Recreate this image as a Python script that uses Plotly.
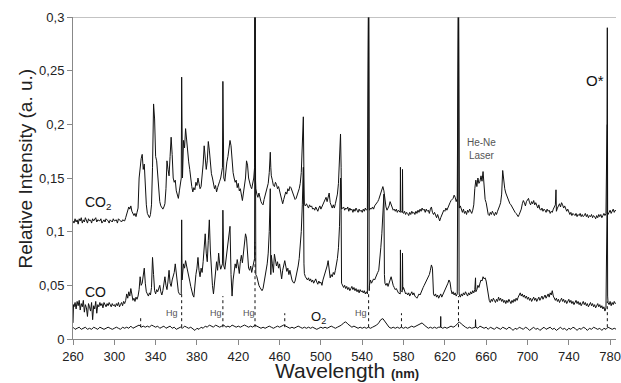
import plotly.graph_objects as go

# ---- data: (wavelength nm, relative intensity) ----
CO2_SPECTRUM = [
    (260, 0.110), (261, 0.108), (262, 0.112), (263, 0.109), (264, 0.111), (265, 0.107), (266, 0.112), (267, 0.110),
    (268, 0.113), (269, 0.108), (270, 0.111), (271, 0.109), (272, 0.113), (273, 0.110), (274, 0.108), (275, 0.112),
    (276, 0.110), (277, 0.111), (278, 0.108), (279, 0.112), (280, 0.110), (282, 0.113), (283, 0.109), (284, 0.111),
    (286, 0.110), (287, 0.112), (288, 0.108), (290, 0.111), (291, 0.109), (292, 0.112), (294, 0.110), (295, 0.108),
    (296, 0.111), (298, 0.109), (299, 0.112), (300, 0.110), (302, 0.111), (303, 0.108), (304, 0.112), (306, 0.110),
    (307, 0.109), (308, 0.111), (310, 0.110), (311, 0.113), (312, 0.116), (313, 0.120), (314, 0.123), (315, 0.121),
    (316, 0.124), (317, 0.119), (318, 0.117), (319, 0.115), (320, 0.117), (321, 0.114), (322, 0.118), (323, 0.122),
    (324, 0.150), (325, 0.160), (326, 0.168), (327, 0.172), (328, 0.158), (329, 0.163), (330, 0.140), (331, 0.125),
    (332, 0.117), (333, 0.114), (334, 0.113), (335, 0.116), (336, 0.125), (337, 0.160), (338, 0.219), (339, 0.205),
    (340, 0.170), (341, 0.166), (342, 0.150), (343, 0.138), (344, 0.128), (345, 0.124), (346, 0.122), (347, 0.121),
    (348, 0.123), (349, 0.126), (350, 0.140), (351, 0.166), (352, 0.158), (353, 0.152), (354, 0.170), (355, 0.188),
    (356, 0.172), (357, 0.150), (358, 0.146), (359, 0.148), (360, 0.138), (361, 0.134), (362, 0.131), (363, 0.138),
    (364, 0.145), (364.8, 0.150), (365.2, 0.244), (365.6, 0.160), (366, 0.150), (367, 0.185), (368, 0.178), (369, 0.196),
    (370, 0.185), (371, 0.172), (372, 0.165), (373, 0.158), (374, 0.148), (375, 0.142), (376, 0.137), (377, 0.141),
    (378, 0.139), (379, 0.146), (380, 0.143), (381, 0.150), (382, 0.145), (383, 0.140), (384, 0.142), (385, 0.152),
    (386, 0.163), (387, 0.180), (388, 0.170), (389, 0.158), (390, 0.166), (391, 0.184), (392, 0.176), (393, 0.160),
    (394, 0.154), (395, 0.150), (396, 0.146), (397, 0.140), (398, 0.143), (399, 0.137), (400, 0.141), (401, 0.145),
    (402, 0.147), (403, 0.150), (404, 0.155), (404.7, 0.160), (405.1, 0.240), (405.5, 0.162), (406, 0.150), (407, 0.147),
    (408, 0.158), (409, 0.165), (410, 0.170), (411, 0.176), (412, 0.185), (413, 0.180), (414, 0.162), (415, 0.155),
    (416, 0.150), (417, 0.146), (418, 0.148), (419, 0.141), (420, 0.145), (421, 0.138), (422, 0.140), (423, 0.133),
    (424, 0.129), (425, 0.136), (426, 0.143), (427, 0.150), (428, 0.166), (429, 0.162), (430, 0.150), (431, 0.144),
    (432, 0.142), (433, 0.140), (434, 0.145), (435, 0.150), (435.8, 0.160), (436.2, 0.350), (436.6, 0.150), (437, 0.140),
    (438, 0.135), (439, 0.132), (440, 0.136), (441, 0.131), (442, 0.128), (443, 0.126), (444, 0.125), (445, 0.130),
    (446, 0.134), (447, 0.138), (448, 0.141), (449, 0.145), (450, 0.155), (451, 0.174), (451.5, 0.160), (452, 0.152),
    (453, 0.148), (454, 0.143), (455, 0.142), (456, 0.146), (457, 0.144), (458, 0.140), (459, 0.142), (460, 0.138),
    (461, 0.132), (462, 0.128), (463, 0.126), (464, 0.130), (465, 0.134), (466, 0.137), (467, 0.135), (468, 0.140),
    (469, 0.138), (470, 0.142), (471, 0.141), (472, 0.138), (473, 0.136), (474, 0.133), (475, 0.130), (476, 0.131),
    (477, 0.135), (478, 0.137), (479, 0.140), (480, 0.145), (481, 0.155), (482, 0.175), (483, 0.207), (483.6, 0.150),
    (484, 0.125), (485, 0.124), (486, 0.126), (487, 0.124), (488, 0.122), (489, 0.125), (490, 0.123), (491, 0.124),
    (492, 0.121), (493, 0.122), (494, 0.120), (495, 0.123), (496, 0.121), (497, 0.119), (498, 0.122), (499, 0.124),
    (500, 0.121), (501, 0.123), (502, 0.126), (503, 0.128), (504, 0.130), (505, 0.132), (506, 0.128), (507, 0.133),
    (508, 0.136), (509, 0.127), (510, 0.124), (511, 0.122), (512, 0.125), (513, 0.122), (514, 0.126), (515, 0.130),
    (516, 0.135), (517, 0.145), (518, 0.165), (519, 0.191), (519.6, 0.160), (520, 0.121), (521, 0.122), (522, 0.123),
    (523, 0.120), (524, 0.122), (525, 0.121), (526, 0.123), (527, 0.119), (528, 0.122), (529, 0.120), (530, 0.121),
    (531, 0.118), (532, 0.121), (533, 0.119), (534, 0.122), (535, 0.120), (536, 0.118), (537, 0.121), (538, 0.119),
    (539, 0.120), (540, 0.118), (541, 0.121), (542, 0.119), (543, 0.122), (544, 0.120), (545, 0.121), (546.2, 0.350),
    (546.8, 0.121), (547, 0.120), (548, 0.122), (549, 0.121), (550, 0.123), (551, 0.121), (552, 0.124), (553, 0.125),
    (554, 0.127), (555, 0.128), (556, 0.130), (557, 0.133), (558, 0.137), (559, 0.140), (560, 0.142), (561, 0.138),
    (562, 0.127), (563, 0.123), (564, 0.120), (565, 0.122), (566, 0.124), (567, 0.128), (568, 0.125), (569, 0.122),
    (570, 0.120), (571, 0.121), (572, 0.119), (573, 0.121), (574, 0.118), (575, 0.120), (576.8, 0.118), (577, 0.160),
    (577.3, 0.119), (578.8, 0.118), (579, 0.158), (579.3, 0.118), (580, 0.117), (581, 0.119), (582, 0.116), (583, 0.118),
    (584, 0.117), (585, 0.115), (586, 0.118), (587, 0.116), (588, 0.119), (589, 0.117), (590, 0.118), (591, 0.116),
    (592, 0.119), (593, 0.117), (594, 0.120), (595, 0.118), (596, 0.121), (597, 0.119), (598, 0.122), (599, 0.120),
    (600, 0.121), (601, 0.118), (602, 0.121), (603, 0.119), (604, 0.120), (605, 0.117), (606, 0.121), (607, 0.123),
    (608, 0.118), (609, 0.116), (610, 0.118), (611, 0.115), (612, 0.113), (613, 0.116), (614, 0.112), (615, 0.110),
    (616, 0.113), (617, 0.116), (618, 0.118), (619, 0.120), (620, 0.119), (621, 0.122), (622, 0.120), (623, 0.123),
    (624, 0.125), (625, 0.127), (626, 0.129), (627, 0.130), (628, 0.131), (629, 0.134), (630, 0.132), (631, 0.128),
    (632, 0.131), (633.2, 0.350), (633.8, 0.125), (634, 0.122), (635, 0.124), (636, 0.120), (637, 0.118), (638, 0.121),
    (639, 0.117), (640, 0.119), (641, 0.116), (642, 0.120), (643, 0.118), (644, 0.121), (645, 0.119), (646, 0.117),
    (647, 0.120), (648, 0.125), (649, 0.140), (650, 0.148), (651, 0.142), (652, 0.150), (653, 0.145), (654, 0.147),
    (655, 0.152), (656, 0.147), (657, 0.156), (658, 0.140), (659, 0.130), (660, 0.127), (661, 0.122), (662, 0.116),
    (663, 0.115), (664, 0.118), (665, 0.116), (666, 0.119), (667, 0.117), (668, 0.115), (669, 0.118), (670, 0.116),
    (671, 0.119), (672, 0.121), (673, 0.124), (674, 0.127), (675, 0.135), (676, 0.157), (677, 0.145), (678, 0.140),
    (679, 0.136), (680, 0.133), (681, 0.130), (682, 0.128), (683, 0.126), (684, 0.125), (685, 0.123), (686, 0.121),
    (687, 0.120), (688, 0.118), (689, 0.117), (690, 0.115), (691, 0.114), (692, 0.116), (693, 0.118), (694, 0.121),
    (695, 0.126), (696, 0.129), (697, 0.127), (698, 0.124), (699, 0.128), (700, 0.130), (701, 0.131), (702, 0.127),
    (703, 0.125), (704, 0.128), (705, 0.126), (706, 0.129), (707, 0.125), (708, 0.127), (709, 0.124), (710, 0.122),
    (711, 0.125), (712, 0.121), (713, 0.120), (714, 0.122), (715, 0.119), (716, 0.121), (717, 0.120), (718, 0.118),
    (719, 0.121), (720, 0.119), (721, 0.120), (722, 0.117), (723, 0.119), (724, 0.118), (725, 0.121), (726, 0.123),
    (727, 0.125), (727.6, 0.139), (728, 0.119), (729, 0.122), (730, 0.124), (731, 0.126), (732, 0.123), (733, 0.127),
    (734, 0.125), (735, 0.122), (736, 0.124), (737, 0.120), (738, 0.119), (739, 0.121), (740, 0.118), (741, 0.116),
    (742, 0.118), (743, 0.115), (744, 0.117), (745, 0.116), (746, 0.115), (747, 0.117), (748, 0.114), (749, 0.116),
    (750, 0.115), (751, 0.117), (752, 0.114), (753, 0.116), (754, 0.114), (755, 0.115), (756, 0.117), (757, 0.114),
    (758, 0.116), (759, 0.113), (760, 0.115), (761, 0.114), (762, 0.116), (763, 0.113), (764, 0.115), (765, 0.114),
    (766, 0.112), (767, 0.115), (768, 0.113), (769, 0.116), (770, 0.114), (771, 0.116), (772, 0.113), (773, 0.115),
    (774, 0.117), (775, 0.115), (776, 0.117), (777, 0.200), (777.3, 0.290), (777.6, 0.118), (778, 0.116), (779, 0.118),
    (780, 0.120), (781, 0.117), (782, 0.119), (783, 0.121), (784, 0.118), (785, 0.120), (786, 0.119),
]

CO_SPECTRUM = [
    (260, 0.015), (260.5, 0.032), (261, 0.030), (262, 0.034), (263, 0.028), (264, 0.035), (265, 0.031), (266, 0.036),
    (267, 0.027), (268, 0.033), (269, 0.030), (270, 0.036), (271, 0.025), (272, 0.032), (273, 0.029), (274, 0.021),
    (275, 0.033), (276, 0.030), (277, 0.026), (278, 0.034), (279, 0.018), (280, 0.031), (281, 0.028), (282, 0.035),
    (283, 0.024), (284, 0.032), (285, 0.030), (286, 0.034), (287, 0.031), (288, 0.033), (289, 0.029), (290, 0.034),
    (291, 0.032), (292, 0.030), (293, 0.033), (294, 0.031), (295, 0.034), (296, 0.032), (297, 0.030), (298, 0.033),
    (299, 0.031), (300, 0.032), (301, 0.030), (302, 0.033), (303, 0.031), (304, 0.034), (305, 0.030), (306, 0.032),
    (307, 0.034), (308, 0.031), (309, 0.035), (310, 0.033), (311, 0.036), (312, 0.042), (313, 0.038), (314, 0.044),
    (315, 0.040), (316, 0.047), (317, 0.041), (318, 0.036), (319, 0.038), (320, 0.035), (321, 0.039), (322, 0.037),
    (323, 0.040), (324, 0.046), (325, 0.058), (326, 0.050), (327, 0.052), (328, 0.060), (329, 0.066), (330, 0.052),
    (331, 0.044), (332, 0.042), (333, 0.040), (334, 0.043), (335, 0.041), (336, 0.048), (337, 0.076), (338, 0.060),
    (339, 0.045), (340, 0.042), (341, 0.046), (342, 0.044), (343, 0.048), (344, 0.050), (345, 0.044), (346, 0.041),
    (347, 0.045), (348, 0.050), (349, 0.058), (350, 0.050), (351, 0.046), (352, 0.054), (353, 0.064), (354, 0.052),
    (355, 0.049), (356, 0.055), (357, 0.058), (358, 0.062), (359, 0.070), (360, 0.060), (361, 0.050), (362, 0.044),
    (363, 0.042), (364, 0.041), (364.8, 0.042), (365.2, 0.111), (365.6, 0.055), (366, 0.062), (367, 0.070), (368, 0.066),
    (369, 0.073), (370, 0.068), (371, 0.062), (372, 0.058), (373, 0.054), (374, 0.049), (375, 0.044), (376, 0.041),
    (377, 0.039), (378, 0.052), (379, 0.060), (380, 0.066), (381, 0.076), (382, 0.064), (383, 0.058), (384, 0.066),
    (385, 0.062), (386, 0.072), (387, 0.090), (388, 0.098), (389, 0.080), (390, 0.072), (391, 0.092), (392, 0.111),
    (393, 0.082), (394, 0.060), (395, 0.050), (396, 0.042), (397, 0.055), (398, 0.068), (399, 0.072), (400, 0.064),
    (401, 0.080), (402, 0.070), (403, 0.065), (404, 0.068), (404.7, 0.070), (405.1, 0.120), (405.5, 0.075), (406, 0.068),
    (407, 0.065), (408, 0.072), (409, 0.080), (410, 0.086), (411, 0.095), (412, 0.105), (413, 0.060), (414, 0.040),
    (415, 0.055), (416, 0.064), (417, 0.070), (418, 0.066), (419, 0.074), (420, 0.068), (421, 0.061), (422, 0.072),
    (423, 0.078), (424, 0.071), (425, 0.080), (426, 0.090), (427, 0.098), (428, 0.094), (429, 0.078), (430, 0.066),
    (431, 0.064), (432, 0.068), (433, 0.062), (434, 0.066), (435, 0.070), (435.8, 0.075), (436.2, 0.350), (436.6, 0.070),
    (437, 0.060), (438, 0.058), (439, 0.052), (440, 0.050), (441, 0.048), (442, 0.046), (443, 0.045), (444, 0.047),
    (445, 0.052), (446, 0.058), (447, 0.064), (448, 0.070), (449, 0.080), (450, 0.100), (451, 0.140), (451.5, 0.060),
    (452, 0.078), (453, 0.070), (454, 0.062), (455, 0.079), (456, 0.074), (457, 0.068), (458, 0.072), (459, 0.066),
    (460, 0.070), (461, 0.060), (462, 0.056), (463, 0.064), (464, 0.070), (465, 0.073), (466, 0.068), (467, 0.063),
    (468, 0.066), (469, 0.060), (470, 0.064), (471, 0.058), (472, 0.055), (473, 0.053), (474, 0.052), (475, 0.054),
    (476, 0.058), (477, 0.062), (478, 0.068), (479, 0.075), (480, 0.085), (481, 0.100), (482, 0.125), (483, 0.160),
    (483.6, 0.070), (484, 0.061), (485, 0.058), (486, 0.056), (487, 0.055), (488, 0.057), (489, 0.054), (490, 0.056),
    (491, 0.053), (492, 0.055), (493, 0.052), (494, 0.054), (495, 0.056), (496, 0.053), (497, 0.051), (498, 0.054),
    (499, 0.052), (500, 0.053), (501, 0.050), (502, 0.055), (503, 0.058), (504, 0.062), (505, 0.064), (506, 0.068),
    (507, 0.073), (508, 0.062), (509, 0.057), (510, 0.060), (511, 0.058), (512, 0.062), (513, 0.060), (514, 0.064),
    (515, 0.068), (516, 0.075), (517, 0.085), (518, 0.105), (519, 0.150), (519.6, 0.120), (520, 0.052), (521, 0.050),
    (522, 0.048), (523, 0.050), (524, 0.047), (525, 0.049), (526, 0.046), (527, 0.048), (528, 0.045), (529, 0.047),
    (530, 0.049), (531, 0.046), (532, 0.048), (533, 0.045), (534, 0.047), (535, 0.044), (536, 0.046), (537, 0.043),
    (538, 0.046), (539, 0.044), (540, 0.045), (541, 0.043), (542, 0.045), (543, 0.042), (544, 0.044), (545, 0.042),
    (546.2, 0.350), (546.8, 0.045), (547, 0.050), (548, 0.055), (549, 0.052), (550, 0.054), (551, 0.056), (552, 0.055),
    (553, 0.058), (554, 0.060), (555, 0.062), (556, 0.064), (557, 0.072), (558, 0.085), (559, 0.098), (560, 0.115),
    (561, 0.135), (561.5, 0.060), (562, 0.052), (563, 0.050), (564, 0.052), (565, 0.049), (566, 0.053), (567, 0.055),
    (568, 0.058), (569, 0.052), (570, 0.050), (571, 0.048), (572, 0.046), (573, 0.047), (574, 0.044), (575, 0.043),
    (576.8, 0.042), (577, 0.083), (577.3, 0.045), (578.8, 0.044), (579, 0.080), (579.3, 0.046), (580, 0.048), (581, 0.044),
    (582, 0.042), (583, 0.043), (584, 0.041), (585, 0.043), (586, 0.040), (587, 0.042), (588, 0.044), (589, 0.041),
    (590, 0.043), (591, 0.040), (592, 0.039), (593, 0.038), (594, 0.040), (595, 0.042), (596, 0.041), (597, 0.044),
    (598, 0.046), (599, 0.048), (600, 0.050), (601, 0.052), (602, 0.054), (603, 0.056), (604, 0.058), (605, 0.060),
    (606, 0.064), (607, 0.069), (608, 0.066), (608.5, 0.045), (609, 0.042), (610, 0.040), (611, 0.042), (612, 0.039),
    (613, 0.041), (614, 0.038), (615, 0.040), (616, 0.042), (617, 0.039), (618, 0.041), (619, 0.043), (620, 0.045),
    (621, 0.047), (622, 0.050), (623, 0.052), (624, 0.055), (625, 0.053), (626, 0.046), (627, 0.042), (628, 0.044),
    (629, 0.041), (630, 0.043), (631, 0.040), (632, 0.042), (633.2, 0.350), (633.8, 0.044), (634, 0.041), (635, 0.039),
    (636, 0.042), (637, 0.040), (638, 0.043), (639, 0.041), (640, 0.044), (641, 0.042), (642, 0.040), (643, 0.043),
    (644, 0.041), (645, 0.044), (646, 0.042), (647, 0.045), (648, 0.043), (649, 0.046), (649.7, 0.057), (650, 0.044),
    (651, 0.046), (652, 0.050), (653, 0.048), (654, 0.052), (655, 0.055), (656, 0.054), (657, 0.058), (658, 0.056),
    (659, 0.057), (660, 0.054), (661, 0.048), (662, 0.040), (663, 0.036), (664, 0.034), (665, 0.037), (666, 0.035),
    (667, 0.038), (668, 0.036), (669, 0.034), (670, 0.037), (671, 0.035), (672, 0.039), (673, 0.036), (674, 0.038),
    (675, 0.035), (676, 0.037), (677, 0.034), (678, 0.036), (679, 0.033), (680, 0.036), (681, 0.034), (682, 0.037),
    (683, 0.035), (684, 0.033), (685, 0.036), (686, 0.034), (687, 0.037), (688, 0.035), (689, 0.038), (690, 0.036),
    (691, 0.039), (692, 0.041), (693, 0.043), (694, 0.040), (695, 0.042), (696, 0.039), (697, 0.041), (698, 0.038),
    (699, 0.040), (700, 0.037), (701, 0.039), (702, 0.036), (703, 0.038), (704, 0.035), (705, 0.037), (706, 0.039),
    (707, 0.036), (708, 0.038), (709, 0.035), (710, 0.037), (711, 0.039), (712, 0.036), (713, 0.038), (714, 0.040),
    (715, 0.037), (716, 0.039), (717, 0.041), (718, 0.038), (719, 0.040), (720, 0.042), (721, 0.039), (722, 0.043),
    (723, 0.041), (724, 0.045), (725, 0.040), (726, 0.038), (727, 0.036), (728, 0.038), (729, 0.035), (730, 0.037),
    (731, 0.034), (732, 0.036), (733, 0.038), (734, 0.035), (735, 0.037), (736, 0.034), (737, 0.036), (738, 0.033),
    (739, 0.035), (740, 0.037), (741, 0.034), (742, 0.036), (743, 0.033), (744, 0.035), (745, 0.032), (746, 0.034),
    (747, 0.036), (748, 0.033), (749, 0.035), (750, 0.032), (751, 0.034), (752, 0.031), (753, 0.033), (754, 0.035),
    (755, 0.032), (756, 0.034), (757, 0.031), (758, 0.033), (759, 0.030), (760, 0.032), (761, 0.034), (762, 0.031),
    (763, 0.033), (764, 0.030), (765, 0.032), (766, 0.029), (767, 0.031), (768, 0.033), (769, 0.030), (770, 0.032),
    (771, 0.029), (772, 0.031), (773, 0.028), (774, 0.030), (775, 0.026), (776, 0.029), (777, 0.120), (777.3, 0.200),
    (777.6, 0.040), (778, 0.034), (779, 0.032), (780, 0.035), (781, 0.031), (782, 0.034), (783, 0.032), (784, 0.035),
    (785, 0.033), (786, 0.034),
]

O2_SPECTRUM = [
    (260, 0.011), (262, 0.009), (264, 0.010), (266, 0.011), (268, 0.009), (270, 0.010), (272, 0.011), (274, 0.009),
    (276, 0.010), (278, 0.009), (280, 0.011), (282, 0.010), (284, 0.009), (286, 0.011), (288, 0.010), (290, 0.009),
    (292, 0.010), (294, 0.011), (296, 0.010), (298, 0.009), (300, 0.010), (302, 0.011), (304, 0.010), (306, 0.009),
    (308, 0.011), (310, 0.010), (312, 0.011), (314, 0.010), (316, 0.012), (318, 0.010), (320, 0.011), (322, 0.012),
    (324, 0.013), (326, 0.011), (328, 0.012), (330, 0.011), (332, 0.012), (334, 0.011), (336, 0.013), (338, 0.012),
    (340, 0.011), (342, 0.012), (344, 0.010), (346, 0.011), (348, 0.012), (350, 0.010), (352, 0.011), (354, 0.012),
    (356, 0.010), (358, 0.011), (360, 0.009), (362, 0.010), (364, 0.011), (366, 0.010), (368, 0.012), (370, 0.011),
    (372, 0.010), (374, 0.011), (376, 0.009), (378, 0.008), (380, 0.010), (382, 0.009), (384, 0.011), (386, 0.010),
    (388, 0.012), (390, 0.011), (392, 0.013), (394, 0.012), (396, 0.011), (398, 0.013), (400, 0.012), (402, 0.011),
    (404, 0.012), (406, 0.013), (408, 0.011), (410, 0.012), (412, 0.011), (414, 0.013), (416, 0.012), (418, 0.011),
    (420, 0.012), (422, 0.011), (424, 0.012), (426, 0.013), (428, 0.012), (430, 0.011), (432, 0.012), (434, 0.011),
    (436, 0.013), (438, 0.012), (440, 0.011), (442, 0.010), (444, 0.011), (446, 0.010), (448, 0.011), (450, 0.012),
    (452, 0.011), (454, 0.010), (456, 0.011), (458, 0.012), (460, 0.011), (462, 0.012), (464, 0.013), (466, 0.012),
    (468, 0.011), (470, 0.010), (472, 0.011), (474, 0.010), (476, 0.011), (478, 0.012), (480, 0.011), (482, 0.010),
    (484, 0.011), (486, 0.010), (488, 0.011), (490, 0.010), (492, 0.011), (494, 0.010), (496, 0.009), (498, 0.010),
    (500, 0.011), (502, 0.010), (504, 0.011), (506, 0.010), (508, 0.011), (510, 0.012), (512, 0.011), (514, 0.010),
    (516, 0.011), (518, 0.012), (520, 0.013), (522, 0.015), (524, 0.016), (526, 0.014), (528, 0.012), (530, 0.011),
    (532, 0.012), (534, 0.011), (536, 0.010), (538, 0.011), (540, 0.010), (542, 0.011), (544, 0.010), (546, 0.011),
    (548, 0.010), (550, 0.011), (552, 0.012), (554, 0.013), (556, 0.015), (558, 0.018), (560, 0.019), (562, 0.016),
    (564, 0.013), (566, 0.011), (568, 0.010), (570, 0.011), (572, 0.010), (574, 0.011), (576, 0.010), (578, 0.011),
    (580, 0.010), (582, 0.011), (584, 0.010), (586, 0.011), (588, 0.012), (590, 0.011), (592, 0.012), (594, 0.013),
    (596, 0.014), (598, 0.015), (600, 0.013), (602, 0.011), (604, 0.010), (606, 0.011), (608, 0.010), (610, 0.011),
    (612, 0.010), (614, 0.011), (615.8, 0.011), (616, 0.021), (616.2, 0.011), (618, 0.010), (620, 0.011), (622, 0.010),
    (624, 0.011), (626, 0.012), (628, 0.011), (630, 0.012), (632, 0.014), (634, 0.016), (636, 0.014), (638, 0.012),
    (640, 0.011), (642, 0.010), (644, 0.011), (646, 0.010), (648, 0.011), (649.5, 0.011), (649.7, 0.018), (650, 0.011),
    (652, 0.010), (654, 0.012), (656, 0.011), (658, 0.010), (660, 0.011), (662, 0.009), (664, 0.011), (666, 0.010),
    (668, 0.009), (670, 0.011), (672, 0.010), (674, 0.009), (676, 0.011), (678, 0.010), (680, 0.009), (682, 0.011),
    (684, 0.010), (686, 0.008), (688, 0.010), (690, 0.009), (692, 0.011), (694, 0.010), (696, 0.009), (698, 0.011),
    (700, 0.010), (702, 0.008), (704, 0.010), (706, 0.011), (708, 0.009), (710, 0.010), (712, 0.008), (714, 0.010),
    (716, 0.011), (718, 0.009), (720, 0.010), (722, 0.011), (724, 0.009), (726, 0.010), (728, 0.008), (730, 0.010),
    (732, 0.011), (734, 0.009), (736, 0.010), (738, 0.008), (740, 0.010), (742, 0.009), (744, 0.011), (746, 0.010),
    (748, 0.008), (750, 0.010), (752, 0.009), (754, 0.011), (756, 0.010), (758, 0.008), (760, 0.010), (762, 0.009),
    (764, 0.011), (766, 0.010), (768, 0.009), (770, 0.010), (772, 0.008), (774, 0.010), (776, 0.009), (778, 0.011),
    (780, 0.010), (782, 0.009), (784, 0.010), (786, 0.009),
]

# dotted lamp lines rising from the O2 trace
HG_LINE_WL = [325.5, 365.2, 405.1, 436.2, 465.0, 546.2, 578.0, 633.2, 777.3]
HG_LINE_TOP = [0.022, 0.042, 0.040, 0.090, 0.024, 0.042, 0.024, 0.040, 0.035]
HG_LINE_BASE = 0.011

X_TICKS = [260, 300, 340, 380, 420, 460, 500, 540, 580, 620, 660, 700, 740, 780]
Y_TICKS = [0, 0.05, 0.1, 0.15, 0.2, 0.25, 0.3]
Y_TICK_TEXT = ["0", "0,05", "0,1", "0,15", "0,2", "0,25", "0,3"]

FONT = "Liberation Sans, Arial, sans-serif"


def unzip(pairs):
    return [p[0] for p in pairs], [p[1] for p in pairs]


fig = go.Figure()
for name, data in (("CO2", CO2_SPECTRUM), ("CO", CO_SPECTRUM), ("O2", O2_SPECTRUM)):
    xs, ys = unzip(data)
    fig.add_trace(go.Scatter(x=xs, y=ys, mode="lines", name=name,
                             line=dict(color="#111111", width=1)))

hx, hy = [], []
for w, t in zip(HG_LINE_WL, HG_LINE_TOP):
    hx += [w, w, None]
    hy += [HG_LINE_BASE, t, None]
fig.add_trace(go.Scatter(x=hx, y=hy, mode="lines", name="lines",
                         line=dict(color="#111111", width=1, dash="dot")))

fig.update_layout(
    width=621, height=383,
    margin=dict(l=73, r=0, t=17, b=44),
    paper_bgcolor="white", plot_bgcolor="white",
    showlegend=False,
    font=dict(family=FONT, color="#222222", size=13),
)
fig.update_xaxes(range=[260, 785.7], tickvals=X_TICKS, ticks="outside", ticklen=5,
                 tickcolor="#888888", showline=True, linecolor="#888888", linewidth=1,
                 showgrid=False, zeroline=False, ticklabeloverflow="allow",
                 tickfont=dict(size=13, color="#222222"))
fig.update_yaxes(range=[0, 0.3], tickvals=Y_TICKS, ticktext=Y_TICK_TEXT, ticks="outside",
                 ticklen=5, tickcolor="#888888", showline=True, linecolor="#888888",
                 linewidth=1, showgrid=False, zeroline=False,
                 tickfont=dict(size=13, color="#222222"))

# top border
fig.add_shape(type="line", xref="paper", yref="y", x0=0, x1=1, y0=0.3, y1=0.3,
              line=dict(color="#888888", width=1))

ann = []
ann.append(dict(x=269.5, y=0.127, text="CO<sub>2</sub>", xanchor="left", yanchor="middle",
                showarrow=False, font=dict(size=14, color="#111111")))
ann.append(dict(x=269.5, y=0.044, text="CO", xanchor="left", yanchor="middle",
                showarrow=False, font=dict(size=14, color="#111111")))
for hx_ in (355.4, 398.6, 430.5, 539.0):
    ann.append(dict(x=hx_, y=0.024, text="Hg", xanchor="center", yanchor="middle",
                    showarrow=False, font=dict(size=9, color="#555555")))
ann.append(dict(x=498, y=0.020, text="O<sub>2</sub>", xanchor="center", yanchor="middle",
                showarrow=False, font=dict(size=13, color="#111111")))
ann.append(dict(x=655, y=0.177, text="He-Ne<br>Laser", xanchor="center", yanchor="middle",
                showarrow=False, font=dict(size=10, color="#555555")))
ann.append(dict(x=765.5, y=0.241, text="O*", xanchor="center", yanchor="middle",
                showarrow=False, font=dict(size=15, color="#111111")))
ann.append(dict(xref="paper", yref="paper", x=-0.0876, y=0.531,
                text="Relative Intensity (a. u.)", textangle=-90,
                xanchor="center", yanchor="middle", showarrow=False,
                font=dict(size=19, color="#222222")))
ann.append(dict(xref="paper", yref="paper", x=0.504, y=-0.099,
                text="Wavelength <b><span style='font-size:13px'>(nm)</span></b>",
                xanchor="center", yanchor="middle", showarrow=False,
                font=dict(size=21, color="#222222")))
fig.update_layout(annotations=ann)

fig.write_html("out.html", config={"displayModeBar": False},
               post_script="document.body.style.margin='0';document.body.style.overflow='hidden';")
